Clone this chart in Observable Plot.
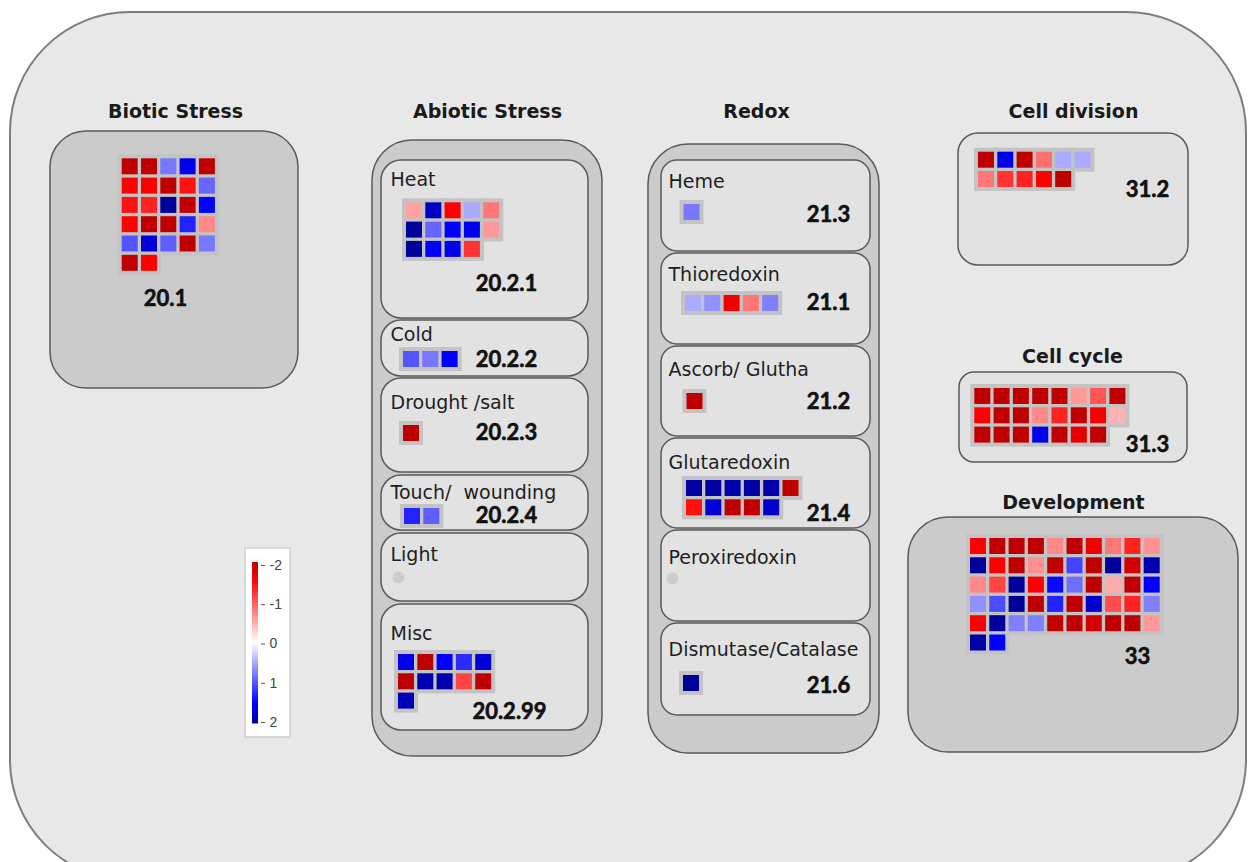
<!DOCTYPE html>
<html>
<head>
<meta charset="utf-8">
<script src="https://cdn.jsdelivr.net/npm/d3@7"></script>
<script src="https://cdn.jsdelivr.net/npm/@observablehq/plot@0.6"></script>
<style>
  html, body { margin: 0; padding: 0; background: #fff; }
  #chart { width: 1250px; height: 862px; overflow: hidden; }
  #chart svg { display: block; }
  #chart text { white-space: pre; }
</style>
</head>
<body>
<div id="chart"></div>
<script>
// Log2 fold change per gene, listed row by row for each MapMan bin
// (negative = red, positive = blue).
const bioticStress_20_1 = [
  -2, -2, 0.8, 1.6, -2,
  -1.5, -1.5, -2, -1.4, 0.9,
  -1.4, -1.3, 2, -2, 1.5,
  -1.5, -2, -2, 1.3, -0.7,
  1.0, 1.7, 0.95, -2, 0.8,
  -2, -1.5
];
const heat_20_2_1 = [
  -0.55, 1.8, -1.5, 0.5, -0.8,
  2, 0.9, 1.5, 1.6, -0.6,
  2, 1.5, 1.6, -1.2
];
const cold_20_2_2 = [1.0, 0.8, 1.5];
const drought_20_2_3 = [-2];
const touch_20_2_4 = [1.3, 0.95];
const misc_20_2_99 = [
  1.6, -2, 1.5, 1.25, 1.7,
  -2, 1.9, 1.9, -1.1, -2,
  1.85
];
const heme_21_3 = [0.8];
const thioredoxin_21_1 = [0.5, 0.65, -1.6, -0.8, 0.75];
const ascorbGlutha_21_2 = [-2];
const glutaredoxin_21_4 = [
  1.95, 1.95, 1.9, 1.95, 1.9, -2,
  -1.4, 1.7, -2, -2, 1.75
];
const dismutase_21_6 = [2];
const cellDivision_31_2 = [
  -2, 1.6, -2, -0.85, 0.5, 0.5,
  -0.8, -1.2, -1.3, -1.5, -2
];
const cellCycle_31_3 = [
  -2, -2, -2, -2, -2, -0.6, -1.0, -2,
  -1.5, -2, -2, -0.7, -1.3, -2, -1.55, -0.45,
  -2, -2, -2, 1.6, -2, -1.7, -2
];
const development_33 = [
  -1.5, -2, -2, -2, -0.7, -2, -1.6, -0.8, -1.3, -0.65,
  2, -1.5, -2, -0.65, -2, 1.1, -2, 2, -1.85, 1.9,
  -0.7, -1.1, 2, -1.5, 1.45, 0.85, -2, -0.5, -2, 1.5,
  0.65, 1.05, 2, -2, 1.3, -2, 1.75, -1.05, -1.3, 0.75,
  -1.5, 2, 0.75, 0.75, -2, -2, -1.85, -2, -2, -0.6,
  1.95, 1.5
];

const groupTitles = ["Biotic Stress", "Abiotic Stress", "Redox", "Cell division", "Cell cycle", "Development"];
const abioticSections = ["Heat", "Cold", "Drought /salt", "Touch/  wounding", "Light", "Misc"];
const redoxSections = ["Heme", "Thioredoxin", "Ascorb/ Glutha", "Glutaredoxin", "Peroxiredoxin", "Dismutase/Catalase"];
const legendTicks = [-2, -1, 0, 1, 2];

// ---- layout (pixel space of the diagram) ----
const W = 1250, H = 862;
const PITCH = 19.3, CELL = 16, PAD = 4;
const STROKE = "#5a5a5a";

const titleLayout = [[175, 111], [487, 111], [756, 111], [1073, 111], [1072, 356], [1073, 502]];

const darkGroups = [
  {x1: 50, y1: 131, x2: 298, y2: 388, rx: 36},
  {x1: 372, y1: 140, x2: 602, y2: 756, rx: 40},
  {x1: 648, y1: 144, x2: 879, y2: 753, rx: 40},
  {x1: 908, y1: 517, x2: 1238, y2: 752, rx: 40}
];
const lightGroups = [
  {x1: 958, y1: 133, x2: 1188, y2: 265, rx: 20},
  {x1: 959, y1: 372, x2: 1187, y2: 462, rx: 15}
];
const abioticRows = [[160, 318], [320, 376], [378, 472], [475, 530], [533, 601], [604, 730]];
const abioticBaselines = [185, 340, 408, 498, 560, 639];
const redoxRows = [[160, 251], [253, 344], [346, 436], [438, 528], [530, 621], [623, 715]];
const redoxBaselines = [187, 280, 375, 468, 563, 655];

const bins = [
  {code: "20.1", values: bioticStress_20_1, cols: 5, x: 121.7, y: 158.3, lx: 165, ly: 298},
  {code: "20.2.1", values: heat_20_2_1, cols: 5, x: 406, y: 202.3, lx: 506, ly: 283},
  {code: "20.2.2", values: cold_20_2_2, cols: 3, x: 403, y: 351, lx: 506, ly: 359},
  {code: "20.2.3", values: drought_20_2_3, cols: 1, x: 403, y: 425, lx: 506, ly: 432},
  {code: "20.2.4", values: touch_20_2_4, cols: 2, x: 404, y: 508, lx: 506, ly: 515},
  {code: "20.2.99", values: misc_20_2_99, cols: 5, x: 398, y: 654, lx: 509, ly: 711},
  {code: "21.3", values: heme_21_3, cols: 1, x: 683.5, y: 204, lx: 828, ly: 214},
  {code: "21.1", values: thioredoxin_21_1, cols: 5, x: 685, y: 295, lx: 828, ly: 302},
  {code: "21.2", values: ascorbGlutha_21_2, cols: 1, x: 686.5, y: 393, lx: 828, ly: 401},
  {code: "21.4", values: glutaredoxin_21_4, cols: 6, x: 686, y: 480, lx: 828, ly: 513},
  {code: "21.6", values: dismutase_21_6, cols: 1, x: 683, y: 675, lx: 828, ly: 685},
  {code: "31.2", values: cellDivision_31_2, cols: 6, x: 978, y: 151.7, lx: 1147, ly: 189},
  {code: "31.3", values: cellCycle_31_3, cols: 8, x: 974.3, y: 388, lx: 1147, ly: 444},
  {code: "33", values: development_33, cols: 10, x: 970, y: 538, lx: 1137, ly: 656}
];
// bins with no measured genes show a single grey placeholder
const emptyBins = [{x: 398, y: 577}, {x: 672, y: 578}];

const cells = bins.flatMap(b => b.values.map((v, i) => {
  const col = i % b.cols, row = Math.floor(i / b.cols);
  const x1 = b.x + col * PITCH, y1 = b.y + row * PITCH;
  return {v, x1, y1, x2: x1 + CELL, y2: y1 + CELL};
}));

const legendBox = {x1: 245, y1: 548, x2: 290, y2: 737};
const rampTop = 562, rampBottom = 723, rampSteps = 80;
const ramp = d3.range(rampSteps).map(i => ({
  v: -2 + 4 * (i + 0.5) / rampSteps,
  y1: rampTop + (rampBottom - rampTop) * i / rampSteps,
  y2: rampTop + (rampBottom - rampTop) * (i + 1) / rampSteps + 0.5
}));
const tickY = v => 565 + (v + 2) / 4 * (722 - 565);

const frame = (data, fill, extra = {}) => {
  const groups = d3.group(data, d => d.rx);
  return [...groups].map(([rx, rows]) => Plot.rect(rows, {
    x1: "x1", y1: "y1", x2: "x2", y2: "y2", rx, ry: rx,
    fill, stroke: STROKE, strokeWidth: 1.5, ...extra
  }));
};

const abioticPanels = abioticRows.map(([y1, y2]) => ({x1: 381, x2: 588, y1, y2, rx: 20}));
const redoxPanels = redoxRows.map(([y1, y2]) => ({x1: 661, x2: 870, y1, y2, rx: 16}));

const chart = Plot.plot({
  width: W,
  height: H,
  margin: 0,
  x: {domain: [0, W], range: [0, W], axis: null},
  y: {domain: [0, H], range: [0, H], axis: null},
  color: {
    type: "linear",
    domain: [-2, -1.5, 0, 1.5, 2],
    range: ["#c00000", "#ff0000", "#ffffff", "#0000ff", "#00009a"],
    interpolate: "rgb",
    clamp: true
  },
  style: {background: "#ffffff", overflow: "hidden"},
  marks: [
    // outer canvas
    Plot.rect([{x1: 10, y1: 12, x2: 1246, y2: 880}], {
      x1: "x1", y1: "y1", x2: "x2", y2: "y2", rx: 120, ry: 120,
      fill: "#e8e8e8", stroke: "#7d7d7d", strokeWidth: 2
    }),
    ...frame(darkGroups, "#cbcbcb"),
    ...frame(lightGroups, "#e2e2e2"),
    ...frame(abioticPanels, "#e2e2e2"),
    ...frame(redoxPanels, "#e2e2e2"),

    // grey backing behind each gene block
    Plot.rect(cells, {
      x1: d => d.x1 - PAD, x2: d => d.x2 + PAD,
      y1: d => d.y1 - PAD, y2: d => d.y2 + PAD,
      fill: "#c3c3c3"
    }),
    Plot.rect(cells, {x1: "x1", x2: "x2", y1: "y1", y2: "y2", fill: "v"}),
    Plot.dot(emptyBins, {x: "x", y: "y", r: 6, fill: "#cccccc"}),

    // group titles
    Plot.text(groupTitles, {
      x: (d, i) => titleLayout[i][0], y: (d, i) => titleLayout[i][1],
      text: d => d, fontFamily: "DejaVu Sans", fontWeight: "bold", fontSize: 19,
      fill: "#1a1a1a", textAnchor: "middle"
    }),
    // section labels
    Plot.text(abioticSections, {
      x: () => 390, y: (d, i) => abioticBaselines[i] - 6,
      text: d => d, fontFamily: "DejaVu Sans", fontSize: 19, fill: "#1e1e1e",
      textAnchor: "start"
    }),
    Plot.text(redoxSections, {
      x: () => 668, y: (d, i) => redoxBaselines[i] - 6,
      text: d => d, fontFamily: "DejaVu Sans", fontSize: 19, fill: "#1e1e1e",
      textAnchor: "start"
    }),
    // bin codes
    Plot.text(bins, {
      x: "lx", y: "ly", text: "code",
      fontFamily: "Lato", fontWeight: "bold", fontSize: 22, fill: "#111",
      stroke: "#111", strokeWidth: 0.6, textAnchor: "middle"
    }),

    // colour key
    Plot.rect([legendBox], {
      x1: "x1", y1: "y1", x2: "x2", y2: "y2", fill: "#ffffff", stroke: "#cfcfcf", strokeWidth: 1.5
    }),
    Plot.rect(ramp, {x1: () => 252, x2: () => 258, y1: "y1", y2: "y2", fill: "v"}),
    Plot.ruleY(legendTicks, {y: d => tickY(d), x1: () => 261, x2: () => 265, stroke: "#555", strokeWidth: 1}),
    Plot.text(legendTicks, {
      x: () => 269, y: d => tickY(d), text: d => String(d),
      fontFamily: "Liberation Sans", fontSize: 14, fill: "#444", textAnchor: "start"
    })
  ]
});

document.getElementById("chart").append(chart);
</script>
</body>
</html>
